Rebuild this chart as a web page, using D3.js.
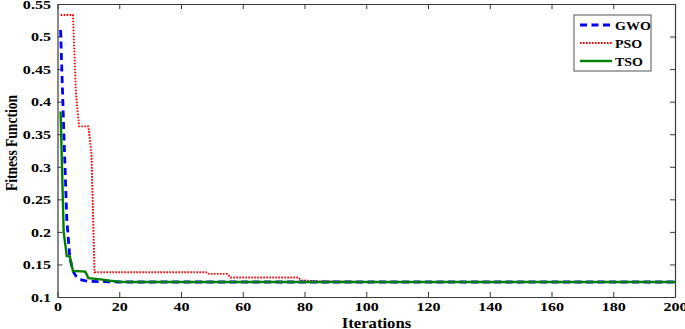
<!DOCTYPE html>
<html>
<head>
<meta charset="utf-8">
<script src="https://cdn.jsdelivr.net/npm/d3@7"></script>
<style>
  body { margin: 0; background: #fff; }
  svg text { font-family: "Liberation Serif", "Times New Roman", serif; font-weight: bold; }
</style>
</head>
<body>
<div id="chart"></div>
<script>
// data (iteration, fitness)
var gwoIter = [1, 2, 3, 4, 5, 6, 7, 8, 10, 15, 20, 200];
var gwoVal  = [0.51, 0.36, 0.22, 0.16, 0.14, 0.132, 0.128, 0.126, 0.124, 0.1235, 0.123, 0.123];

var psoIter = [1, 5, 6, 7, 10, 11, 12, 48, 49, 55, 56, 78, 79, 85, 100, 200];
var psoVal  = [0.533, 0.533, 0.41, 0.362, 0.362, 0.32, 0.138, 0.138, 0.1355, 0.1355, 0.130, 0.130, 0.1255, 0.124, 0.123, 0.123];

var tsoIter = [1, 2, 3, 4, 5, 9, 10, 14, 17, 20, 25, 200];
var tsoVal  = [0.385, 0.2, 0.163, 0.162, 0.14, 0.139, 0.129, 0.127, 0.125, 0.1235, 0.123, 0.123];

var xTicks = [0, 20, 40, 60, 80, 100, 120, 140, 160, 180, 200];
var yTicks = [0.1, 0.15, 0.2, 0.25, 0.3, 0.35, 0.4, 0.45, 0.5, 0.55];

var seriesNames = ["GWO", "PSO", "TSO"];
var seriesColors = ["#0000ff", "#ff0000", "#008000"];

var W = 685, H = 329;
var margin = {top: 4, right: 10, bottom: 32, left: 57.5},
    width = W - margin.left - margin.right,
    height = H - margin.top - margin.bottom;

// the reference figure is stretched sideways, so text is widened a bit
var sx = 1.19;

var x = d3.scaleLinear().domain([0, 200]).range([0, width]);
var y = d3.scaleLinear().domain([0.1, 0.55]).range([height, 0]);

var svg = d3.select("#chart").append("svg")
    .attr("width", W)
    .attr("height", H)
  .append("g")
    .attr("transform", "translate(" + margin.left + "," + margin.top + ")");

var fmtY = function(d) { return d3.format("")(+d.toFixed(2)); };

var xAxis = d3.axisBottom(x).tickValues(xTicks).tickSizeInner(-5).tickSizeOuter(0);
var yAxis = d3.axisLeft(y).tickValues(yTicks).tickSizeInner(-5).tickSizeOuter(0).tickFormat(fmtY);
var xTop = d3.axisTop(x).tickValues(xTicks).tickSizeInner(-5).tickSizeOuter(0).tickFormat("");
var yRight = d3.axisRight(y).tickValues(yTicks).tickSizeInner(-5).tickSizeOuter(0).tickFormat("");

function styleAxis(g) {
  g.select(".domain").attr("stroke", "#3a3a3a").attr("stroke-width", 1.2);
  g.selectAll(".tick line").attr("stroke", "#3a3a3a");
  g.selectAll(".tick text").attr("fill", "#000").style("font-size", "13.5px")
    .attr("transform", "scale(" + sx + ",1)");
}

svg.append("g").attr("transform", "translate(0," + height + ")").call(xAxis).call(styleAxis)
  .selectAll(".tick text").attr("y", 14.5).attr("dy", 0);
svg.append("g").call(yAxis).call(styleAxis)
  .selectAll(".tick text").attr("x", -5.5);
svg.append("g").call(xTop).call(styleAxis);
svg.append("g").attr("transform", "translate(" + width + ",0)").call(yRight).call(styleAxis);

var line = d3.line()
    .x(function(d) { return x(d[0]); })
    .y(function(d) { return y(d[1]); });

var series = [
  {name: "GWO", pts: d3.zip(gwoIter, gwoVal), dash: "7,4.5", w: 2.8},
  {name: "PSO", pts: d3.zip(psoIter, psoVal), dash: "1.6,1.4", w: 1.9},
  {name: "TSO", pts: d3.zip(tsoIter, tsoVal), dash: null, w: 2.4}
];

// draw PSO first, then GWO, then TSO on top
[1, 0, 2].forEach(function(i) {
  var s = series[i];
  svg.append("path")
    .datum(s.pts)
    .attr("fill", "none")
    .attr("stroke", seriesColors[i])
    .attr("stroke-width", s.w)
    .attr("stroke-dasharray", s.dash)
    .attr("d", line);
});

// axis titles
svg.append("text")
  .attr("transform", "translate(" + (376.5 - margin.left) + "," + (327.5 - margin.top) + ") scale(" + sx + ",1)")
  .attr("text-anchor", "middle")
  .style("font-size", "14px")
  .text("Iterations");

svg.append("text")
  .attr("transform", "translate(" + (16.5 - margin.left) + "," + (143 - margin.top) + ") rotate(-90) scale(1," + sx + ")")
  .attr("text-anchor", "middle")
  .attr("textLength", 96)
  .attr("lengthAdjust", "spacingAndGlyphs")
  .style("font-size", "14px")
  .text("Fitness Function");

// legend
var lg = svg.append("g").attr("transform", "translate(" + (574 - margin.left) + "," + (15 - margin.top) + ")");
lg.append("rect")
  .attr("width", 77).attr("height", 56)
  .attr("fill", "#fff").attr("stroke", "#555").attr("stroke-width", 1);
series.forEach(function(s, i) {
  var yy = 10 + i * 18;
  lg.append("line")
    .attr("x1", 6).attr("x2", 38).attr("y1", yy).attr("y2", yy)
    .attr("stroke", seriesColors[i])
    .attr("stroke-width", s.w)
    .attr("stroke-dasharray", s.dash);
  lg.append("text")
    .attr("transform", "translate(41," + (yy + 4.5) + ") scale(1.12,1)")
    .style("font-size", "12.5px")
    .text(seriesNames[i]);
});
</script>
</body>
</html>
